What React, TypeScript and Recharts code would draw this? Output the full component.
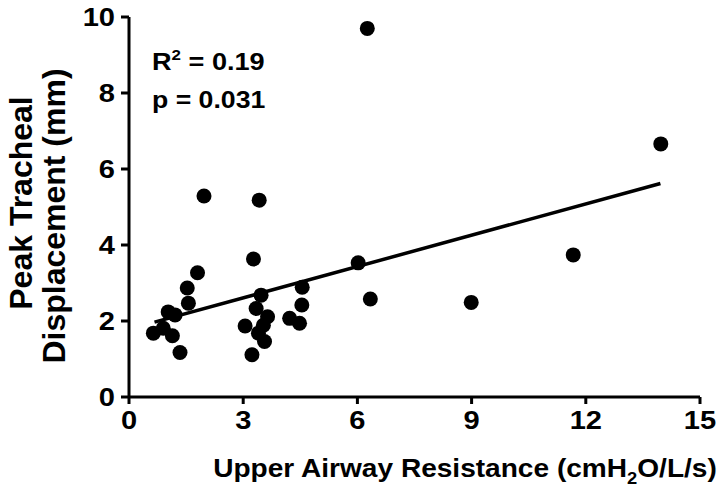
import { ScatterChart, Scatter, XAxis, YAxis, ReferenceLine, Customized } from "recharts";

// Upper airway resistance (cmH2O/L/s) vs peak tracheal displacement (mm)
const resistance = [
  0.64, 0.9, 1.03, 1.14, 1.21, 1.34, 1.53, 1.56, 1.8, 1.97,
  3.05, 3.23, 3.27, 3.34, 3.4, 3.42, 3.47, 3.53, 3.56, 3.64,
  4.22, 4.48, 4.54, 4.55, 6.02, 6.26, 6.34, 8.99, 11.67, 13.97,
];
const displacement = [
  1.68, 1.81, 2.24, 1.61, 2.16, 1.17, 2.87, 2.47, 3.27, 5.29,
  1.87, 1.11, 3.63, 2.33, 1.68, 5.18, 2.68, 1.89, 1.46, 2.11,
  2.07, 1.94, 2.42, 2.89, 3.53, 9.7, 2.58, 2.49, 3.74, 6.66,
];
const fitX = [0.67, 13.96];
const fitY = [1.97, 5.62];
const xTicks = [0, 3, 6, 9, 12, 15];
const yTicks = [0, 2, 4, 6, 8, 10];

const points = resistance.map((x, i) => ({ x, y: displacement[i] }));

const FONT = '"Liberation Sans", Arial, Helvetica, sans-serif';
const textStyle = { fontFamily: FONT, fontWeight: 700, fill: "#000" };

const Dot = (props: any) => <circle cx={props.cx} cy={props.cy} r={7.5} fill="#000" />;

// the figure's lettering is a little wider than Arial, so stretch it sideways
const XTick = ({ x, y, payload }: any) => (
  <text transform={`translate(${x},${y + 25}) scale(1.14,1)`} textAnchor="middle" fontSize={25.5} {...textStyle}>
    {payload.value}
  </text>
);

const YTick = ({ x, y, payload }: any) => (
  <text transform={`translate(${x},${y + 9}) scale(1.14,1)`} textAnchor="end" fontSize={25.5} {...textStyle}>
    {payload.value}
  </text>
);

const Annotations = () => (
  <g>
    <text transform="translate(152,70) scale(1.13,1)" fontSize={24} {...textStyle}>
      R<tspan dy={-10} fontSize={15}>2</tspan>
      <tspan dy={10}> = 0.19</tspan>
    </text>
    <text transform="translate(152,108) scale(1.11,1)" fontSize={24} {...textStyle}>
      p = 0.031
    </text>
    <text transform="translate(465,477) scale(1.08,1)" fontSize={26} textAnchor="middle" {...textStyle}>
      Upper Airway Resistance (cmH
      <tspan dy={7} fontSize={17}>2</tspan>
      <tspan dy={-7}>O/L/s)</tspan>
    </text>
    <text transform="translate(32,203) rotate(-90)" fontSize={32} textAnchor="middle" {...textStyle}>
      Peak Tracheal
    </text>
    <text transform="translate(65,216) rotate(-90)" fontSize={32} textAnchor="middle" {...textStyle}>
      Displacement (mm)
    </text>
  </g>
);

export default function App() {
  return (
    <div style={{ position: "absolute", left: 0, top: 0, background: "#fff" }}>
      <ScatterChart
        width={720}
        height={496}
        margin={{ top: 17, right: 20, bottom: 39, left: 69 }}
      >
        <XAxis
          type="number"
          dataKey="x"
          domain={[0, 15]}
          ticks={xTicks}
          height={60}
          axisLine={{ stroke: "#000", strokeWidth: 3 }}
          tickLine={{ stroke: "#000", strokeWidth: 3 }}
          tickSize={7}
          tickMargin={0}
          tick={XTick}
        />
        <YAxis
          type="number"
          dataKey="y"
          domain={[0, 10]}
          ticks={yTicks}
          width={60}
          axisLine={{ stroke: "#000", strokeWidth: 3 }}
          tickLine={{ stroke: "#000", strokeWidth: 3 }}
          tickSize={8}
          tickMargin={6}
          tick={YTick}
        />
        <ReferenceLine
          segment={[
            { x: fitX[0], y: fitY[0] },
            { x: fitX[1], y: fitY[1] },
          ]}
          stroke="#000"
          strokeWidth={3.5}
        />
        <Scatter data={points} shape={Dot} isAnimationActive={false} />
        <Customized component={Annotations} />
      </ScatterChart>
    </div>
  );
}
